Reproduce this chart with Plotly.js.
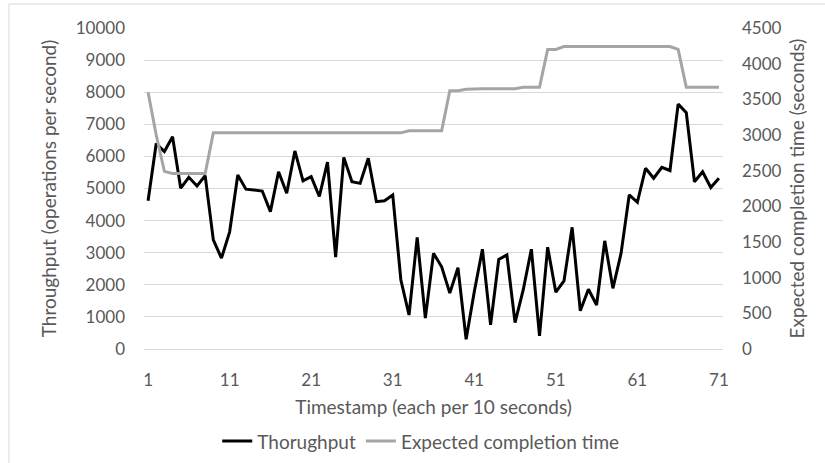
<!DOCTYPE html>
<html>
<head>
<meta charset="utf-8">
<script src="https://cdn.plot.ly/plotly-3.0.1.min.js"></script>
<style>
  html, body { margin: 0; padding: 0; background: #ffffff; }
  #chart { width: 825px; height: 463px; }
</style>
</head>
<body>
<div id="chart"></div>
<script>
// Timestamps (each per 10 seconds)
const timestamps = [1,2,3,4,5,6,7,8,9,10,11,12,13,14,15,16,17,18,19,20,
  21,22,23,24,25,26,27,28,29,30,31,32,33,34,35,36,37,38,39,40,
  41,42,43,44,45,46,47,48,49,50,51,52,53,54,55,56,57,58,59,60,
  61,62,63,64,65,66,67,68,69,70,71];

// Throughput (operations per second) - left axis
const throughput = [4620,6400,6150,6610,5010,5350,5080,5400,3400,2830,
  3650,5420,4980,4960,4920,4280,5520,4850,6170,5240,
  5370,4750,5820,2860,5970,5210,5160,5940,4590,4620,
  4800,2150,1060,3480,960,2980,2560,1740,2530,300,
  1780,3110,750,2790,2930,820,1840,3110,410,3170,
  1770,2120,3790,1190,1860,1370,3370,1890,2980,4800,
  4570,5630,5320,5660,5560,7630,7360,5210,5520,5030,5320];

// Expected completion time (seconds) - right axis
const expectedCompletion = [3600,3000,2490,2460,2460,2460,2460,2460,3030,3030,
  3030,3030,3030,3030,3030,3030,3030,3030,3030,3030,
  3030,3030,3030,3030,3030,3030,3030,3030,3030,3030,
  3030,3030,3060,3060,3060,3060,3060,3620,3620,3640,
  3650,3650,3650,3650,3650,3650,3670,3670,3670,4200,
  4200,4240,4240,4240,4240,4240,4240,4240,4240,4240,
  4240,4240,4240,4240,4240,4200,3670,3670,3670,3670,3670];

const xTicks = [1,11,21,31,41,51,61,71];
const leftTicks = [0,1000,2000,3000,4000,5000,6000,7000,8000,9000,10000];
const rightTicks = [0,500,1000,1500,2000,2500,3000,3500,4000,4500];

const FONT = 'Lato, "Open Sans", sans-serif';
const TXT = '#595959';
const GRID = '#d9d9d9';

const traces = [
  {
    x: timestamps, y: throughput, name: 'Thorughput',
    type: 'scatter', mode: 'lines',
    line: { color: '#000000', width: 3 },
    yaxis: 'y'
  },
  {
    x: timestamps, y: expectedCompletion, name: 'Expected completion time',
    type: 'scatter', mode: 'lines',
    line: { color: '#a5a5a5', width: 3 },
    yaxis: 'y2'
  }
];

const layout = {
  width: 825, height: 463,
  paper_bgcolor: '#ffffff', plot_bgcolor: '#ffffff',
  margin: { l: 144, r: 102, t: 28, b: 114 },
  font: { family: FONT, size: 17, color: TXT },
  showlegend: true,
  legend: {
    orientation: 'h', xref: 'container', yref: 'container',
    x: 0.51, xanchor: 'center', y: 0.047, yanchor: 'middle',
    font: { family: FONT, size: 19, color: TXT },
    itemwidth: 30, traceorder: 'normal'
  },
  xaxis: {
    range: [0.5, 71.5],
    tickmode: 'array', tickvals: xTicks, ticktext: xTicks.map(String),
    showgrid: false, zeroline: false,
    showline: true, linecolor: GRID, linewidth: 1,
    ticks: '', ticklabelstandoff: 16,
    tickfont: { family: FONT, size: 17, color: TXT },
    title: { text: 'Timestamp (each per 10 seconds)', standoff: 11,
             font: { family: FONT, size: 19, color: TXT } },
    fixedrange: true
  },
  yaxis: {
    range: [0, 10000],
    tickmode: 'array', tickvals: leftTicks, ticktext: leftTicks.map(String),
    showgrid: true, gridcolor: GRID, gridwidth: 1,
    zeroline: true, zerolinecolor: GRID, zerolinewidth: 1,
    showline: false, ticks: '', ticklabelstandoff: 18,
    tickfont: { family: FONT, size: 17, color: TXT },
    title: { text: 'Throughput (operations per second)', standoff: 14,
             font: { family: FONT, size: 19, color: TXT } },
    fixedrange: true
  },
  yaxis2: {
    range: [0, 4500], overlaying: 'y', side: 'right',
    tickmode: 'array', tickvals: rightTicks, ticktext: rightTicks.map(String),
    showgrid: false, zeroline: false, showline: false,
    ticks: '', ticklabelstandoff: 18,
    tickfont: { family: FONT, size: 17, color: TXT },
    title: { text: 'Expected completion time (seconds)', standoff: 10,
             font: { family: FONT, size: 19, color: TXT } },
    fixedrange: true
  },
  shapes: [
    { type: 'rect', xref: 'paper', yref: 'paper',
      x0: -135/579, x1: 1 + 110/579, y0: -120/321, y1: 1 + 24/321,
      line: { color: GRID, width: 1 }, fillcolor: 'rgba(0,0,0,0)', layer: 'below' }
  ]
};

Plotly.newPlot('chart', traces, layout, { displayModeBar: false, staticPlot: true });
</script>
</body>
</html>
